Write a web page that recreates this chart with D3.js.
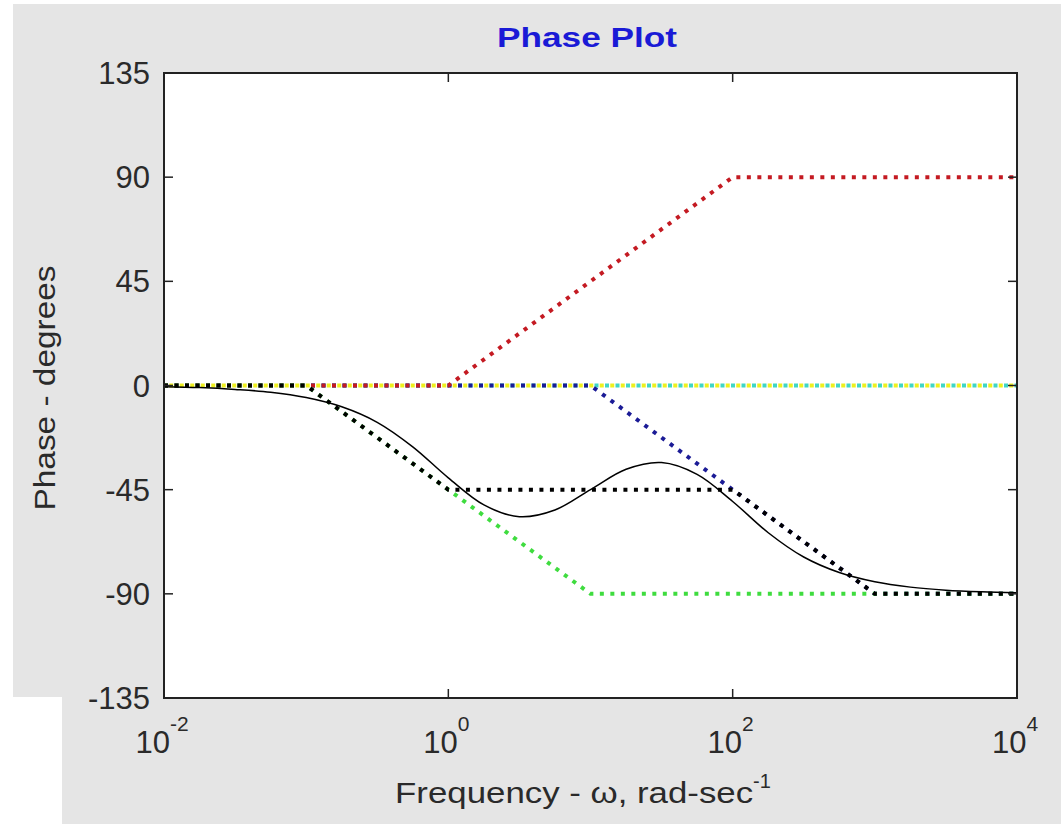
<!DOCTYPE html>
<html>
<head>
<meta charset="utf-8">
<script src="https://cdn.jsdelivr.net/npm/d3@7"></script>
<style>
    body { margin: 0; background: white; }
    svg { display: block; }
    text { font-family: "Liberation Sans", Arial, sans-serif; }
</style>
</head>
<body>
<div id="chart"></div>
<script>
// asymptote segments, [frequency, phase in degrees]
let gainLine = [[1e-2, 0], [1e4, 0]];
let cyanLine = [[1e-2, 0], [1e4, 0]];
let zeroLine = [[1e-2, 0], [1, 0], [100, 90], [1e4, 90]];
let pole1Line = [[1e-2, 0], [0.1, 0], [10, -90], [1e4, -90]];
let pole2Line = [[1e-2, 0], [10, 0], [1000, -90], [1e4, -90]];
let sumLine = [[1e-2, 0], [0.1, 0], [1, -45], [100, -45], [1000, -90], [1e4, -90]];

let freqs = [0.01, 0.0178, 0.0316, 0.0562, 0.1, 0.178, 0.316, 0.562, 1, 1.78, 3.16, 5.62,
             10, 17.8, 31.6, 56.2, 100, 178, 316, 562, 1000, 1780, 3160, 5620, 10000];
let phase = [-0.5, -0.9, -1.7, -2.9, -5.2, -9.2, -15.9, -26.5, -39.9, -51.6, -56.7, -53.8,
             -45.0, -36.2, -33.3, -38.4, -50.1, -63.6, -74.1, -80.8, -84.8, -87.1, -88.4, -89.1, -89.5];

let yTicks = [135, 90, 45, 0, -45, -90, -135];
let xTicks = [1e-2, 1e0, 1e2, 1e4];

let W = 1061, H = 824;
let margin = {left: 164, right: 1017, top: 73, bottom: 698};

let svg = d3.select("#chart").append("svg")
    .attr("width", W)
    .attr("height", H);

// figure background (gray with the white notch bottom-left)
svg.append("path")
    .attr("d", "M13,4 H1061 V824 H62 V697 H13 Z")
    .style("fill", "#e5e5e5");

let x = d3.scaleLog().domain([1e-2, 1e4]).range([margin.left, margin.right]);
let y = d3.scaleLinear().domain([-135, 135]).range([margin.bottom, margin.top]);

svg.append("rect")
    .attr("x", margin.left)
    .attr("y", margin.top)
    .attr("width", margin.right - margin.left)
    .attr("height", margin.bottom - margin.top)
    .style("fill", "white");

let line = d3.line()
    .x(d => x(d[0]))
    .y(d => y(d[1]));

let dotted = [
    {data: gainLine, color: "#eef01e", offset: -5.25},
    {data: cyanLine, color: "#3fd6c6", offset: 0},
    {data: pole2Line, color: "#1b1b96", offset: 0},
    {data: zeroLine, color: "#c41a22", offset: 0},
    {data: pole1Line, color: "#3fdc3f", offset: 0},
    {data: sumLine, color: "black", offset: 0}
];

dotted.forEach(s => {
    svg.append("path")
        .attr("d", line(s.data))
        .style("fill", "none")
        .style("stroke", s.color)
        .style("stroke-width", 4)
        .style("stroke-dasharray", "4,6.5")
        .style("stroke-dashoffset", s.offset);
});

let curve = d3.line()
    .x((d, i) => x(freqs[i]))
    .y(d => y(d))
    .curve(d3.curveCatmullRom);

svg.append("path")
    .attr("d", curve(phase))
    .style("fill", "none")
    .style("stroke", "black")
    .style("stroke-width", 1.5);

// box + inward ticks
svg.append("rect")
    .attr("x", margin.left)
    .attr("y", margin.top)
    .attr("width", margin.right - margin.left)
    .attr("height", margin.bottom - margin.top)
    .style("fill", "none")
    .style("stroke", "#222")
    .style("stroke-width", 2);

let tickLen = 9;
yTicks.forEach(t => {
    svg.append("line")
        .attr("x1", margin.left).attr("x2", margin.left + tickLen)
        .attr("y1", y(t)).attr("y2", y(t))
        .style("stroke", "#222").style("stroke-width", 1.5);
    svg.append("line")
        .attr("x1", margin.right).attr("x2", margin.right - tickLen)
        .attr("y1", y(t)).attr("y2", y(t))
        .style("stroke", "#222").style("stroke-width", 1.5);
    svg.append("text")
        .text(t)
        .attr("x", 150)
        .attr("y", y(t) + 11)
        .attr("text-anchor", "end")
        .style("font-size", "31px")
        .style("fill", "#2a2a2a");
});

xTicks.forEach(t => {
    svg.append("line")
        .attr("x1", x(t)).attr("x2", x(t))
        .attr("y1", margin.bottom).attr("y2", margin.bottom - tickLen)
        .style("stroke", "#222").style("stroke-width", 1.5);
    svg.append("line")
        .attr("x1", x(t)).attr("x2", x(t))
        .attr("y1", margin.top).attr("y2", margin.top + tickLen)
        .style("stroke", "#222").style("stroke-width", 1.5);
    let lbl = svg.append("text")
        .attr("x", x(t) - 2)
        .attr("y", 753)
        .attr("text-anchor", "middle")
        .style("font-size", "31px")
        .style("fill", "#2a2a2a");
    lbl.append("tspan").text("10");
    lbl.append("tspan")
        .text(Math.round(Math.log10(t)))
        .attr("dy", -22)
        .style("font-size", "21px");
});

// title and axis labels
svg.append("text")
    .text("Phase Plot")
    .attr("x", 587)
    .attr("y", 47)
    .attr("text-anchor", "middle")
    .attr("textLength", 180)
    .attr("lengthAdjust", "spacingAndGlyphs")
    .style("font-size", "27px")
    .style("font-weight", "bold")
    .style("fill", "#1a1ad6");

let xl = svg.append("text")
    .attr("x", 583)
    .attr("y", 803)
    .attr("text-anchor", "middle")
    .style("font-size", "29px")
    .style("fill", "#2a2a2a");
xl.append("tspan").text("Frequency - ω, rad-sec")
    .attr("textLength", 358)
    .attr("lengthAdjust", "spacingAndGlyphs");
xl.append("tspan").text("-1")
    .attr("dy", -15)
    .style("font-size", "20px");

svg.append("text")
    .text("Phase - degrees")
    .attr("transform", "translate(55, 388) rotate(-90)")
    .attr("text-anchor", "middle")
    .attr("textLength", 245)
    .attr("lengthAdjust", "spacingAndGlyphs")
    .style("font-size", "29px")
    .style("fill", "#2a2a2a");
</script>
</body>
</html>
